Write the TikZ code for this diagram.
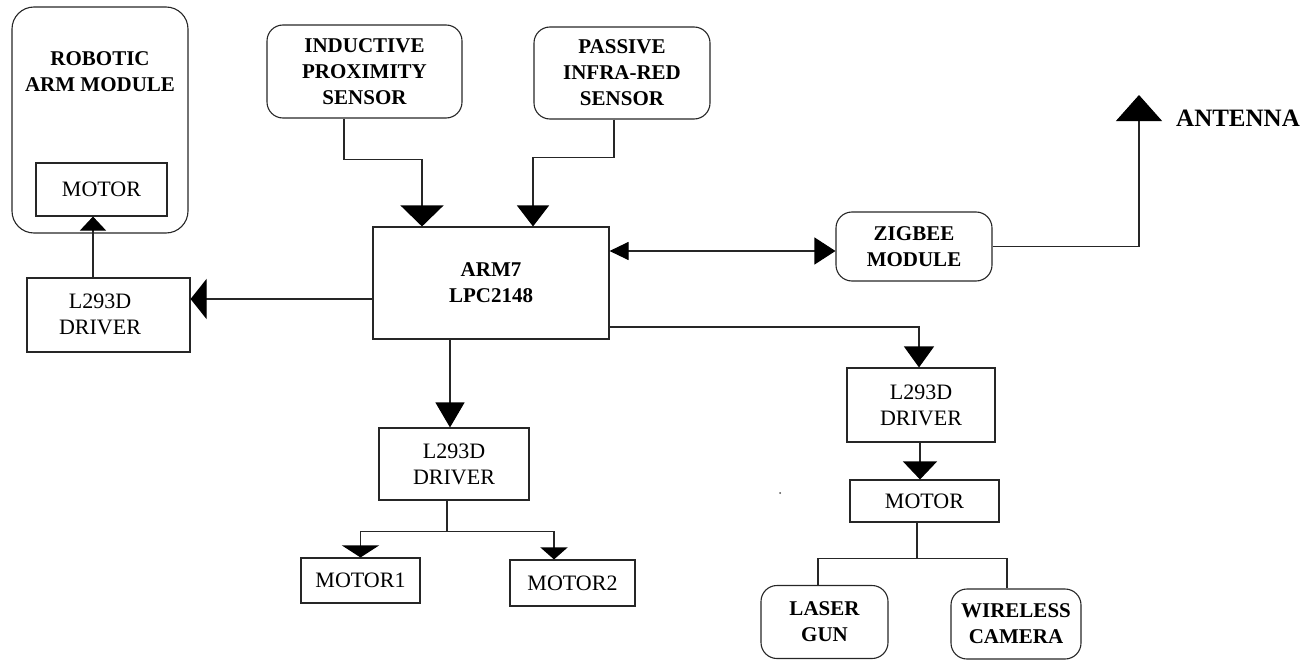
\documentclass[tikz,border=0pt]{standalone}
\usepackage{fontspec}
\setmainfont{Liberation Serif}
\usetikzlibrary{arrows.meta}
\begin{document}
\begin{tikzpicture}[x=1pt,y=-1pt,
  every node/.style={font=\fontsize{22}{26}\selectfont, align=center, inner sep=0pt},
  blk/.style={draw=black!85, line width=1.1pt},
  rbox/.style={blk, rounded corners=16pt},
  bold/.style={font=\fontsize{21}{26}\selectfont\bfseries},
  wire/.style={draw=black!85, line width=1.1pt},
  arr/.style 2 args={wire, -{Triangle[length=#1pt,width=#2pt,color=black]}},
]
\useasboundingbox (0,0) rectangle (1315,661);

% robotic arm module
\node[rbox, rounded corners=22pt, minimum width=176pt, minimum height=226pt] (robot) at (100,120) {};
\node[bold] (robottitle) at (100,72) {ROBOTIC\\ARM MODULE};
\node[blk, minimum width=131pt, minimum height=53pt] (motorA) at (101.5,189.5) {MOTOR};
\node[blk, minimum width=163pt, minimum height=74pt] (drvL) at (108.5,315) {};
\node (drvLtext) at (100,314) {L293D\\DRIVER};

% sensors
\node[rbox, bold, minimum width=195pt, minimum height=93pt] (ind) at (364.5,71.5) {INDUCTIVE\\PROXIMITY\\SENSOR};
\node[rbox, bold, minimum width=176pt, minimum height=92pt] (pir) at (622,73) {PASSIVE\\INFRA-RED\\SENSOR};

% controller
\node[blk, bold, minimum width=236pt, minimum height=112pt] (arm) at (491,283) {ARM7\\LPC2148};

% zigbee and antenna
\node[rbox, bold, minimum width=156pt, minimum height=69pt] (zig) at (914,246.5) {ZIGBEE\\MODULE};
\coordinate (ant) at (1139,95);
\node[font=\fontsize{25}{28}\selectfont\bfseries] (antlabel) at (1238,118) {ANTENNA};

% middle driver and motors
\node[blk, minimum width=150pt, minimum height=72pt] (drvM) at (454,464) {L293D\\DRIVER};
\node[blk, minimum width=119pt, minimum height=45pt] (m1) at (360.5,580.5) {MOTOR1};
\node[blk, minimum width=125pt, minimum height=46pt] (m2) at (572.5,583) {MOTOR2};

% right driver chain
\node[blk, minimum width=148pt, minimum height=74pt] (drvR) at (921,405) {L293D\\DRIVER};
\node[blk, minimum width=149pt, minimum height=42pt] (motorR) at (924.5,501) {MOTOR};
\node[rbox, bold, minimum width=127pt, minimum height=73pt] (laser) at (824.5,622) {LASER\\GUN};
\node[rbox, bold, minimum width=130pt, minimum height=70pt] (wcam) at (1016,624) {WIRELESS\\CAMERA};

% stray dot
\fill[black!70] (780,493) circle (1pt);

% connectors
\draw[arr={21}{43}] ([xshift=-20.5pt]ind.south) -- ++(0,41) -| ([xshift=-69pt]arm.north);
\draw[arr={21}{32}] ([xshift=-8pt]pir.south) -- ++(0,38) -| ([xshift=42pt]arm.north);
\draw[wire, {Triangle[length=19pt,width=18pt,color=black]}-{Triangle[length=21pt,width=27pt,color=black]}]
  ([yshift=32pt]arm.east) -- ([yshift=32pt]arm.east -| zig.west);
\draw[arr={26}{46}] (zig.east) -| (ant);
\draw[arr={16}{40}] ([yshift=-16pt]arm.west) -- ([yshift=-16pt]arm.west -| drvL.east);
\draw[arr={14}{26}] ([xshift=-15.5pt]drvL.north) -- ([xshift=-15.5pt]drvL.north |- motorA.south);
\draw[arr={25}{29}] ([xshift=-41pt]arm.south) -- ([xshift=-41pt]arm.south |- drvM.north);
\draw[arr={12}{37}] ([xshift=-7pt]drvM.south) -- ++(0,31) -| (m1.north);
\draw[arr={12}{27}] ([xshift=-7pt]drvM.south) -- ++(0,31) -| ([xshift=-18.5pt]m2.north);
\draw[arr={21}{30}] ([yshift=-44pt]arm.east) -| ([xshift=-2pt]drvR.north);
\draw[arr={18}{34}] ([xshift=-1pt]drvR.south) -- ([xshift=-1pt]drvR.south |- motorR.north);
\draw[wire] ([xshift=-7.5pt]motorR.south) -- ++(0,36) -| ([xshift=-6.5pt]laser.north);
\draw[wire] ([xshift=-7.5pt]motorR.south) -- ++(0,36) -| ([xshift=-9pt]wcam.north);
\end{tikzpicture}
\end{document}
